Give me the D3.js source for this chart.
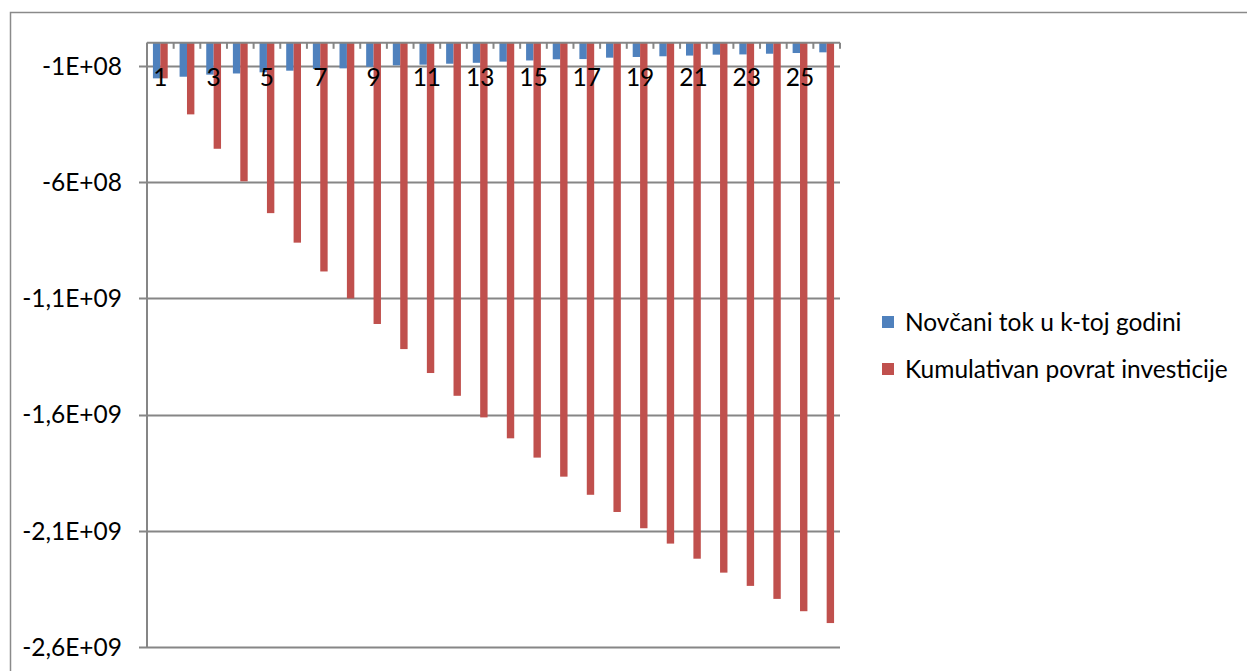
<!DOCTYPE html>
<html lang="hr">
<head>
<meta charset="utf-8">
<script src="https://d3js.org/d3.v7.min.js"></script>
<style>
  body { margin: 0; background: #fff; }
  text { font-family: Lato, "Noto Sans", sans-serif; fill: #000; }
</style>
</head>
<body>
<script>
// years 1..26
var years = d3.range(1, 27);
var seriesNames = ["Novčani tok u k-toj godini", "Kumulativan povrat investicije"];
// cash flow per year
var cashFlow = [-1.53e8, -1.46e8, -1.37e8, -1.32e8, -1.27e8, -1.20e8, -1.13e8, -1.10e8, -1.03e8, -0.97e8,
  -0.94e8, -0.90e8, -0.86e8, -0.81e8, -0.76e8, -0.71e8, -0.70e8, -0.64e8, -0.61e8, -0.58e8,
  -0.55e8, -0.51e8, -0.50e8, -0.47e8, -0.44e8, -0.41e8];
// cumulative return
var cumulative = [-1.53e8, -3.08e8, -4.56e8, -5.96e8, -7.33e8, -8.60e8, -9.84e8, -11.0e8, -12.1e8, -13.18e8,
  -14.21e8, -15.19e8, -16.12e8, -17.02e8, -17.85e8, -18.67e8, -19.45e8, -20.19e8, -20.89e8, -21.55e8,
  -22.2e8, -22.8e8, -23.37e8, -23.93e8, -24.46e8, -24.97e8];
var yTicks = [-1e8, -6e8, -1.1e9, -1.6e9, -2.1e9, -2.6e9];
var yTickLabels = ["-1E+08", "-6E+08", "-1,1E+09", "-1,6E+09", "-2,1E+09", "-2,6E+09"];
var colors = ["#4F81BD", "#C0504D"];

var width = 1247, height = 671;
var plotLeft = 147, plotRight = 840, plotTop = 42.8, plotBottom = 647;
var grey = "#868686";
var fontSize = "24.5px";

var svg = d3.select("body").append("svg")
  .attr("width", width)
  .attr("height", height);

// chart border (only top and left edges visible)
svg.append("path")
  .attr("d", "M10.5," + height + "V12.5H" + width)
  .attr("fill", "none")
  .attr("stroke", "#8a8a8a")
  .attr("stroke-width", 1.5);

var y = d3.scaleLinear().domain([0, -2.6e9]).range([plotTop, plotBottom]);
var x = d3.scaleBand().domain(years).range([plotLeft, plotRight]).paddingInner(0.445).paddingOuter(0.2225);
var xs = d3.scaleBand().domain([0, 1]).range([0, x.bandwidth()]);

// gridlines
svg.append("g").selectAll("line")
  .data(yTicks)
  .join("line")
  .attr("x1", plotLeft - 8).attr("x2", plotRight)
  .attr("y1", function (d) { return Math.round(y(d)) + 0.5; })
  .attr("y2", function (d) { return Math.round(y(d)) + 0.5; })
  .attr("stroke", grey)
  .attr("stroke-width", 2);

// y tick labels
svg.append("g").selectAll("text")
  .data(yTicks)
  .join("text")
  .attr("x", 122)
  .attr("y", function (d) { return y(d); })
  .attr("dy", "0.36em")
  .attr("text-anchor", "end")
  .style("font-size", fontSize)
  .text(function (d, i) { return yTickLabels[i]; });

// bars
var data = [cashFlow, cumulative];
var groups = svg.append("g").selectAll("g")
  .data(data)
  .join("g")
  .attr("fill", function (d, i) { return colors[i]; });
groups.each(function (vals, s) {
  d3.select(this).selectAll("rect")
    .data(vals)
    .join("rect")
    .attr("x", function (d, i) { return x(years[i]) + xs(s); })
    .attr("width", xs.bandwidth())
    .attr("y", y(0))
    .attr("height", function (d) { return y(d) - y(0); });
});

// y axis line
svg.append("line")
  .attr("x1", plotLeft).attr("x2", plotLeft)
  .attr("y1", plotTop).attr("y2", plotBottom)
  .attr("stroke", grey).attr("stroke-width", 2);

// category axis at zero (top)
svg.append("line")
  .attr("x1", plotLeft).attr("x2", plotRight)
  .attr("y1", plotTop).attr("y2", plotTop)
  .attr("stroke", grey).attr("stroke-width", 2);
var step = x.step();
svg.append("g").selectAll("line")
  .data(d3.range(0, years.length + 1))
  .join("line")
  .attr("x1", function (k) { return plotLeft + k * step; })
  .attr("x2", function (k) { return plotLeft + k * step; })
  .attr("y1", plotTop).attr("y2", plotTop + 6)
  .attr("stroke", grey).attr("stroke-width", 2);

// category labels, every second one
svg.append("g").selectAll("text")
  .data(years.filter(function (d) { return d % 2 === 1; }))
  .join("text")
  .attr("x", function (d) { return x(d) + x.bandwidth() / 2; })
  .attr("y", 77)
  .attr("dy", "0.36em")
  .attr("text-anchor", "middle")
  .style("font-size", fontSize)
  .text(function (d) { return d; });

// legend
var legend = svg.append("g").selectAll("g")
  .data(seriesNames)
  .join("g")
  .attr("transform", function (d, i) { return "translate(882," + (322 + i * 47) + ")"; });
legend.append("rect")
  .attr("x", 0).attr("y", -6)
  .attr("width", 12).attr("height", 12)
  .attr("fill", function (d, i) { return colors[i]; });
legend.append("text")
  .attr("x", 23)
  .attr("y", 0)
  .attr("dy", "0.36em")
  .style("font-size", fontSize)
  .text(function (d) { return d; });
</script>
</body>
</html>
